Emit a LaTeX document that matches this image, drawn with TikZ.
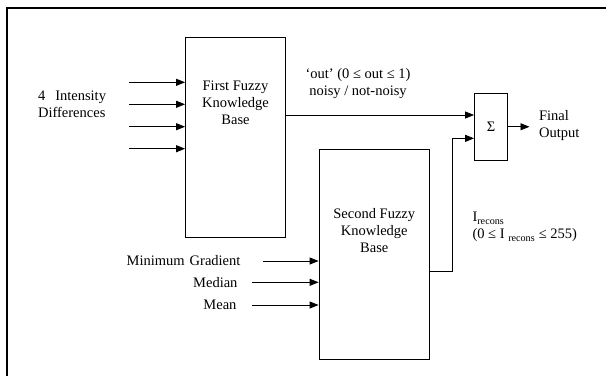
\documentclass[tikz,border=0pt]{standalone}
\usepackage{fontspec}
\setmainfont{Liberation Serif}
\usepackage{tikz}
\usetikzlibrary{arrows.meta}
\usetikzlibrary{positioning}

\begin{document}
\begin{tikzpicture}[x=1pt,y=-1pt,
    font=\fontsize{14.5}{17}\selectfont,
    kbbox/.style={draw, line width=0.8pt, inner sep=0pt},
    kbtext/.style={anchor=north, align=center},
    arr/.style={-{Triangle[length=9pt,width=7pt]}, line width=0.8pt}]
          \useasboundingbox (0,0) rectangle (606,376);
          %frame
          \draw[line width=2pt] (7,376) -- (7,7.5) -- (606,7.5);
          %first knowledge base and its inputs
          \node[kbbox, minimum width=100pt, minimum height=200pt,
                label={[kbtext, yshift=-40pt]north:First Fuzzy\\Knowledge\\Base}] (kb1) at (235.5,137.5) {};
          \node[anchor=west, align=left] (diffs) at (34.5,104.35) {4\hspace{10pt}Intensity\\Differences};
          \coordinate (d1) at (129,82.3);
          \coordinate (d2) at (129,104.3);
          \coordinate (d3) at (129,126.7);
          \coordinate (d4) at (129,148.7);
          \draw[arr] (d1) -- (d1 -| kb1.west);
          \draw[arr] (d2) -- (d2 -| kb1.west);
          \draw[arr] (d3) -- (d3 -| kb1.west);
          \draw[arr] (d4) -- (d4 -| kb1.west);
          %second knowledge base and its inputs
          \node[kbbox, minimum width=110.5pt, minimum height=210pt,
                label={[kbtext, yshift=-56pt]north:Second Fuzzy\\Knowledge\\Base}] (kb2) at (374.25,254.5) {};
          \node[anchor=east] (mingrad) at (244,261) {Minimum\hspace{5pt}Gradient};
          \node[anchor=east] (median) at (241,282.3) {Median};
          \node[anchor=east] (mean) at (240,305) {Mean};
          \draw[arr] ([xshift=18.7pt]mingrad.east) -- (mingrad -| kb2.west);
          \draw[arr] ([xshift=10.7pt]median.east) -- (median -| kb2.west);
          \draw[arr] ([xshift=11.7pt]mean.east) -- (mean -| kb2.west);
          %sum and output
          \node[kbbox, minimum width=33pt, minimum height=66.5pt] (sum) at (491,126.75) {Σ};
          \coordinate (s1) at ([yshift=11.75pt]sum.west);
          \coordinate (s2) at ([yshift=-11.6pt]sum.west);
          \draw[arr] (kb1.east |- s1) -- (s1);
          \draw[arr] ([yshift=-17.2pt]kb2.east) -| ([xshift=-22.2pt]s2) -- (s2);
          \node[anchor=west, align=left] (fout) at (535.5,126) {Final\\Output};
          \draw[arr, shorten >=6pt] (sum.east) -- (sum.east -| fout.west);
          %labels on the lines
          \node[align=center] (outlbl) at (358,83.4) {‘out’ (0 ≤ out ≤ 1)\\noisy / not-noisy};
          \node[anchor=west, align=left] (reclbl) at (469,227.2) {I\textsubscript{recons}\\(0 ≤ I \textsubscript{recons} ≤ 255)};
      \end{tikzpicture}
\end{document}
